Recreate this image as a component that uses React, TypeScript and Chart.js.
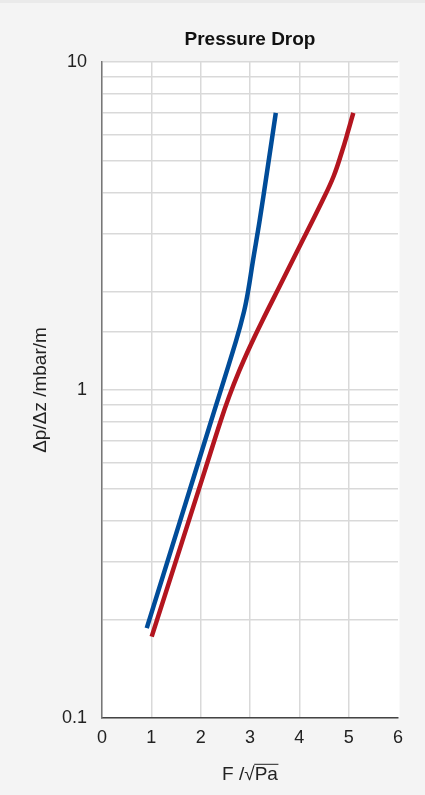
import React, { useEffect, useRef } from "react";
import { Chart, registerables } from "chart.js";

Chart.register(...registerables);

// Series 1 (blue)
const blueF = [0.907, 1.579, 2.21, 2.714, 2.879, 2.96, 3.057, 3.193, 3.347, 3.523];
const blueDP = [0.188, 0.397, 0.802, 1.406, 1.735, 1.995, 2.464, 3.265, 4.64, 7.0];
// Series 2 (red)
const redF = [1.007, 1.624, 2.078, 2.402, 2.577, 2.777, 3.0, 3.243, 3.598, 3.953, 4.46, 4.693, 4.865, 4.987, 5.094];
const redDP = [0.177, 0.345, 0.564, 0.802, 0.955, 1.139, 1.357, 1.618, 2.068, 2.644, 3.756, 4.477, 5.336, 6.14, 7.0];

const xTicks = [0, 1, 2, 3, 4, 5, 6];
const yMajorTicks = [0.1, 1, 10];

const titleText = "Pressure Drop";
const xTitle = "F /\u221APa";
const yTitle = "\u0394p/\u0394z /mbar/m";

const FONT = "'Liberation Sans', Arial, Helvetica, sans-serif";
const TITLE_SIZE = 19;

const areaBg = {
  id: "areaBg",
  beforeDraw(chart: any) {
    const { ctx, chartArea } = chart;
    ctx.save();
    ctx.fillStyle = "#ffffff";
    ctx.fillRect(chartArea.left, chartArea.top, chartArea.right - chartArea.left + 1.5, chartArea.bottom - chartArea.top);
    ctx.restore();
  },
};

const overline = {
  id: "overline",
  afterDraw(chart: any) {
    const sc = chart.scales.x;
    const ctx = chart.ctx;
    ctx.save();
    ctx.font = `${TITLE_SIZE}px ${FONT}`;
    const w = ctx.measureText(xTitle).width;
    const pre = ctx.measureText("F /\u221A").width;
    const cx = (sc.left + sc.right) / 2;
    const x0 = cx - w / 2 + pre - 0.5;
    const x1 = cx + w / 2 + 0.5;
    const yTop = sc.bottom - 9 - (TITLE_SIZE * 1.2) / 2 - 10.3;
    ctx.strokeStyle = "#222";
    ctx.lineWidth = 1;
    ctx.beginPath();
    ctx.moveTo(x0, yTop);
    ctx.lineTo(x1, yTop);
    ctx.stroke();
    ctx.restore();
  },
};

export default function App() {
  const ref = useRef<HTMLCanvasElement | null>(null);

  useEffect(() => {
    document.body.style.margin = "0";
    document.body.style.background = "#f4f4f4";
    const canvas = ref.current;
    if (!canvas) return;
    const chart = new Chart(canvas, {
      type: "line",
      data: {
        datasets: [
          {
            label: "blue",
            data: blueF.map((x, i) => ({ x, y: blueDP[i] })),
            borderColor: "#004c99",
            borderWidth: 4.5,
            pointRadius: 0,
            fill: false,
            tension: 0.4,
          },
          {
            label: "red",
            data: redF.map((x, i) => ({ x, y: redDP[i] })),
            borderColor: "#b3151f",
            borderWidth: 4.5,
            pointRadius: 0,
            fill: false,
            tension: 0.4,
          },
        ],
      },
      options: {
        animation: false,
        responsive: false,
        devicePixelRatio: 1,
        layout: { padding: { left: 0, right: 27, top: 0, bottom: 0 } },
        plugins: {
          legend: { display: false },
          tooltip: { enabled: false },
          title: {
            display: true,
            fullSize: false,
            text: titleText,
            color: "#111",
            font: { family: FONT, size: 19, weight: "bold" },
            padding: { top: 25.5, bottom: 10.7 },
          },
        },
        scales: {
          x: {
            type: "linear",
            min: 0,
            max: 6,
            afterBuildTicks: (scale: any) => {
              scale.ticks = xTicks.map((v) => ({ value: v }));
            },
            afterFit: (scale: any) => {
              scale.height = 77;
            },
            ticks: {
              color: "#222",
              font: { family: FONT, size: 18 },
              padding: 9,
              autoSkip: false,
              maxRotation: 0,
              callback: (v: any) => String(v),
            },
            grid: {
              color: (c: any) => (c.tick && c.tick.value === 6 ? "rgba(0,0,0,0)" : "#d9d9d9"),
              lineWidth: 1.5,
              drawTicks: false,
              tickLength: 0,
            },
            border: { display: true, color: "#444", width: 1.5 },
            title: {
              display: true,
              text: xTitle,
              color: "#222",
              font: { family: FONT, size: TITLE_SIZE },
              padding: { top: 0, bottom: 9 },
            },
          },
          y: {
            type: "logarithmic",
            min: 0.1,
            max: 10,
            afterFit: (scale: any) => {
              scale.width = 102;
            },
            ticks: {
              color: "#222",
              font: { family: FONT, size: 18 },
              padding: 15,
              autoSkip: false,
              callback: (v: any) => {
                const n = Number(v);
                const major = yMajorTicks.find((m) => Math.abs(m - n) < 1e-9 * Math.max(1, m));
                return major !== undefined ? String(major) : "";
              },
            },
            grid: {
              color: "#d9d9d9",
              lineWidth: 1.5,
              drawTicks: false,
              tickLength: 0,
            },
            border: { display: true, color: "#777", width: 1.5 },
            title: {
              display: true,
              text: yTitle,
              color: "#222",
              font: { family: FONT, size: TITLE_SIZE },
              padding: { top: 29, bottom: 0 },
            },
          },
        },
      },
      plugins: [areaBg, overline],
    } as any);
    return () => chart.destroy();
  }, []);

  return (
    <div style={{ width: 425, height: 795, background: "#f4f4f4", borderTop: "3px solid #eaeaea", boxSizing: "border-box", position: "relative" }}>
      <canvas ref={ref} width={425} height={792} style={{ display: "block", width: 425, height: 792 }} />
    </div>
  );
}
